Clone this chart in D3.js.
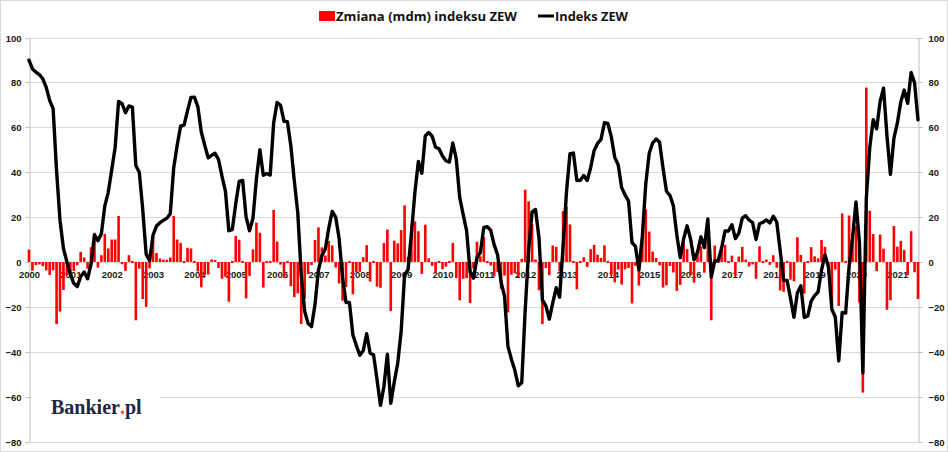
<!DOCTYPE html>
<html>
<head>
<meta charset="utf-8">
<script src="https://cdn.jsdelivr.net/npm/d3@7/dist/d3.min.js"></script>
<style>
  html, body { margin: 0; padding: 0; background: #fff; }
  svg { display: block; }
  .tick text { font-family: "Liberation Sans", Arial, sans-serif; font-size: 9.5px; font-weight: bold; fill: #1a1a1a; }
</style>
</head>
<body>
<svg id="chart" width="948" height="452"></svg>
<script>
// ---- data ----
const startYear = 2000;
const xTickLabels = ["2000","2001","2002","2003","2004","2005","2006","2007","2008","2009","2010",
  "2011","2012","2013","2014","2015","2016","2017","2018","2019","2020","2021"];
const yTicks = [-80, -60, -40, -20, 0, 20, 40, 60, 80, 100];
const seriesNames = ["Zmiana (mdm) indeksu ZEW", "Indeks ZEW"];

// Indeks ZEW (monthly, Jan 2000 - Jul 2021)
const zewIndex = [
  89.9, 86.0, 84.6, 83.5, 81.6, 77.8, 72.0, 68.3, 40.6, 18.5, 6.0, 0.0,
  -5.5, -9.5, -11.0, -6.5, -4.5, -7.5, -1.0, 12.0, 9.5, 12.5, 25.0, 31.0,
  41.0, 51.0, 71.5, 70.5, 66.5, 69.5, 69.0, 43.0, 40.0, 23.5, 3.5, 0.6,
  12.0, 16.0, 17.5, 18.5, 19.5, 21.5, 42.0, 52.0, 60.5, 61.0, 67.3, 73.3,
  73.4, 69.2, 57.9, 52.0, 46.4, 47.5, 48.4, 45.7, 38.2, 31.6, 13.9, 14.4,
  26.0, 35.9, 36.3, 20.1, 13.9, 19.5, 37.0, 50.0, 38.6, 39.4, 38.7, 61.9,
  71.0, 69.8, 62.7, 62.5, 51.7, 36.0, 22.0, -5.6, -22.0, -27.4, -28.8, -19.0,
  -3.6, 2.9, 5.8, 15.1, 22.5, 20.0, 10.4, -6.9, -18.1, -18.1, -32.5, -37.2,
  -41.6, -39.5, -32.0, -40.7, -41.4, -52.4, -63.9, -55.5, -41.1, -63.0, -53.5, -45.2,
  -31.0, -5.8, -3.5, 13.0, 31.1, 44.8, 39.5, 56.1, 57.7, 56.0, 51.1, 50.4,
  47.2, 45.1, 44.5, 53.0, 45.8, 28.7, 21.2, 14.0, -4.3, -7.2, 1.8, 4.3,
  15.4, 15.7, 14.1, 7.6, 3.1, -9.0, -15.1, -37.6, -43.3, -48.3, -55.2, -53.8,
  -21.6, 5.4, 22.3, 23.4, 10.8, -16.9, -19.6, -25.5, -18.2, -11.5, -15.7, 6.9,
  31.5, 48.2, 48.5, 36.3, 36.4, 38.5, 36.3, 42.0, 49.6, 52.8, 54.6, 62.0,
  61.7, 55.7, 46.6, 43.2, 33.1, 29.8, 27.1, 8.6, 6.9, -3.6, 11.5, 34.9,
  48.4, 53.0, 54.8, 53.3, 41.9, 31.5, 29.7, 25.0, 12.1, 1.9, 10.4, 16.1,
  10.2, 1.0, 4.3, 11.2, 6.4, 19.2, -6.8, 0.5, 0.5, 6.2, 13.8, 13.8,
  16.6, 10.4, 12.8, 19.5, 20.6, 18.6, 17.5, 10.0, 17.0, 17.6, 18.7, 17.4,
  20.4, 17.8, 5.1, -8.2, -8.2, -16.1, -24.7, -13.7, -10.6, -24.7, -24.1, -17.5,
  -15.0, -13.4, -3.6, 3.1, -2.1, -21.1, -24.5, -44.1, -22.5, -22.8, -2.1, 10.7,
  26.7, 8.7, -49.5, 28.2, 51.0, 63.4, 59.3, 71.5, 77.4, 56.1, 39.0, 55.0,
  61.8, 71.2, 76.6, 70.7, 84.4, 79.8, 63.3
];

// Zmiana (mdm) indeksu ZEW
const zewChange = [
  5.5, -3.9, -1.4, -1.1, -1.9, -3.8, -5.8, -3.7, -27.7, -22.1, -12.5, -6.0,
  -5.5, -4.0, -1.5, 4.5, 2.0, -3.0, 6.5, 13.0, -2.5, 3.0, 12.5, 6.0,
  10.0, 10.0, 20.5, -1.0, -4.0, 3.0, -0.5, -26.0, -3.0, -16.5, -20.0, -2.9,
  11.4, 4.0, 1.5, 1.0, 1.0, 2.0, 20.5, 10.0, 8.5, 0.5, 6.3, 6.0,
  0.1, -4.2, -11.3, -5.9, -5.6, 1.1, 0.9, -2.7, -7.5, -6.6, -17.7, 0.5,
  11.6, 9.9, 0.4, -16.2, -6.2, 5.6, 17.5, 13.0, -11.4, 0.8, -0.7, 23.2,
  9.1, -1.2, -7.1, -0.2, -10.8, -15.7, -14.0, -27.6, -16.4, -5.4, -1.4, 9.8,
  15.4, 6.5, 2.9, 9.3, 7.4, -2.5, -9.6, -17.3, -11.2, 0.0, -14.4, -4.7,
  -4.4, 2.1, 7.5, -8.7, -0.7, -11.0, -11.5, 8.4, 14.4, -21.9, 9.5, 8.3,
  14.2, 25.2, 2.3, 16.5, 18.1, 13.7, -5.3, 16.6, 1.6, -1.7, -4.9, -0.7,
  -3.2, -2.1, -0.6, 8.5, -7.2, -17.1, -7.5, -7.2, -18.3, -2.9, 9.0, 2.5,
  11.1, 0.3, -1.6, -6.5, -4.5, -12.1, -6.1, -22.5, -5.7, -5.0, -6.9, 1.4,
  32.2, 27.0, 16.9, 1.1, -12.6, -27.7, -2.7, -5.9, 7.3, 6.7, -4.2, 22.6,
  24.6, 16.7, 0.3, -12.2, 0.1, 2.1, -2.2, 5.7, 7.6, 3.2, 1.8, 7.4,
  -0.3, -6.0, -9.1, -3.4, -10.1, -3.3, -2.7, -18.5, -1.7, -10.5, 15.1, 23.4,
  13.5, 4.6, 1.8, -1.5, -11.4, -10.4, -1.8, -4.7, -12.9, -10.2, 8.5, 5.7,
  -5.9, -9.2, 3.3, 6.9, -4.8, 12.8, -26.0, 7.3, 0.0, 5.7, 7.6, 0.0,
  2.8, -6.2, 2.4, 6.7, 1.1, -2.0, -1.1, -7.5, 7.0, 0.6, 1.1, -1.3,
  3.0, -2.6, -12.7, -13.3, 0.0, -7.9, -8.6, 11.0, 3.1, -14.1, 0.6, 6.6,
  2.5, 1.6, 9.8, 6.7, -5.2, -19.0, -3.4, -19.6, 21.6, -0.3, 20.7, 12.8,
  16.0, -18.0, -58.2, 77.7, 22.8, 12.4, -4.1, 12.2, 5.9, -21.3, -17.1, 16.0,
  6.8, 9.4, 5.4, -5.9, 13.7, -4.6, -16.5
];

// month categories
const categories = zewIndex.map((_, i) => `${startYear + Math.floor(i / 12)}-${String(i % 12 + 1).padStart(2, "0")}`);

// ---- chart ----
const W = 948, H = 452;
const plot = { left: 29, right: 918, top: 37.5, bottom: 441.5 };
const svg = d3.select("#chart");

svg.append("rect").attr("x", 0.5).attr("y", 0.5).attr("width", W - 1).attr("height", H - 1)
  .attr("fill", "#fff").attr("stroke", "#d9d9d9");

const x = d3.scaleLinear().domain([0, categories.length - 1]).range([plot.left, plot.right]);
const y = d3.scaleLinear().domain([-80, 100]).range([plot.bottom, plot.top]);

// gridlines
svg.append("g").selectAll("line").data(yTicks).join("line")
  .attr("x1", plot.left).attr("x2", plot.right)
  .attr("y1", d => Math.round(y(d)) + 0.5).attr("y2", d => Math.round(y(d)) + 0.5)
  .attr("stroke", "#d9d9d9").attr("stroke-width", 1);

// left axis
const yl = svg.append("g").attr("transform", `translate(${plot.left + 0.5},0)`)
  .call(d3.axisLeft(y).tickValues(yTicks).tickSize(4).tickPadding(4).tickSizeOuter(0));
// right axis
const yr = svg.append("g").attr("transform", `translate(${plot.right + 0.5},0)`)
  .call(d3.axisRight(y).tickValues(yTicks).tickSize(4).tickPadding(6).tickSizeOuter(0));
[yl, yr].forEach(g => {
  g.select(".domain").attr("stroke", "#bfbfbf");
  g.selectAll(".tick line").attr("stroke", "#bfbfbf");
  g.selectAll(".tick").attr("transform", d => `translate(0,${Math.round(y(d)) + 0.5})`);
});

// x axis labels at zero line
const xTickIdx = xTickLabels.map((_, k) => k * 12);
const xa = svg.append("g").attr("transform", `translate(0,${y(0)})`)
  .call(d3.axisBottom(x).tickValues(xTickIdx).tickSize(0).tickPadding(9)
    .tickFormat((d, k) => xTickLabels[k]));
xa.select(".domain").remove();

// bars
const bw = 2.6;
const y0 = y(0);
svg.append("g").selectAll("rect").data(zewChange).join("rect")
  .attr("x", (d, i) => x(i) - bw / 2)
  .attr("width", bw)
  .attr("y", d => {
    const a = Math.min(y(d), y0), h = Math.abs(y(d) - y0);
    return h < 2 ? y0 - 1 : a;
  })
  .attr("height", d => Math.max(2, Math.abs(y(d) - y0)))
  .attr("fill", "#ff0000");

// line
svg.append("path").datum(zewIndex)
  .attr("d", d3.line().x((d, i) => x(i)).y(d => y(d)))
  .attr("fill", "none").attr("stroke", "#000").attr("stroke-width", 3.4)
  .attr("stroke-linejoin", "round").attr("stroke-linecap", "round");

// legend
const lg = svg.append("g");
lg.append("rect").attr("x", 319).attr("y", 11).attr("width", 16).attr("height", 10).attr("fill", "#ff0000");
lg.append("text").attr("x", 336).attr("y", 20.5).text(seriesNames[0])
  .attr("font-family", "'Open Sans', sans-serif").attr("font-weight", "bold").attr("font-size", 13)
  .attr("textLength", 181).attr("lengthAdjust", "spacingAndGlyphs").attr("fill", "#111");
lg.append("line").attr("x1", 538).attr("x2", 554).attr("y1", 16).attr("y2", 16)
  .attr("stroke", "#000").attr("stroke-width", 3);
lg.append("text").attr("x", 555).attr("y", 20.5).text(seriesNames[1])
  .attr("font-family", "'Open Sans', sans-serif").attr("font-weight", "bold").attr("font-size", 13)
  .attr("textLength", 73).attr("lengthAdjust", "spacingAndGlyphs").attr("fill", "#111");

// logo
svg.append("rect").attr("x", 31).attr("y", 384).attr("width", 129).attr("height", 44).attr("fill", "#fff");
const logoParts = [["Bankier", "#1b2745"], [".", "#ee5a24"], ["pl", "#1b2745"]];
let lx = 51;
logoParts.forEach(([t, c]) => {
  const el = svg.append("text").attr("x", lx).attr("y", 414)
    .attr("font-family", "'Liberation Serif', 'Times New Roman', serif").attr("font-weight", "bold")
    .attr("font-size", 20).attr("fill", c).text(t);
  lx += el.node().getComputedTextLength();
});
</script>
</body>
</html>
